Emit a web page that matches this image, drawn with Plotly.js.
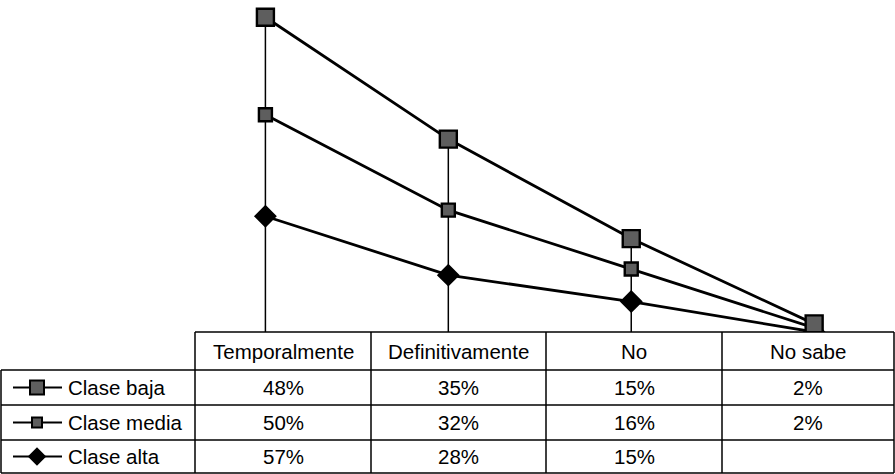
<!DOCTYPE html>
<html><head><meta charset="utf-8">
<script src="https://cdn.plot.ly/plotly-3.0.1.min.js"></script>
<style>html,body{margin:0;padding:0;background:#fff}#chart{width:895px;height:474px}</style>
</head><body><div id="chart"></div>
<script>
const categories = ["Temporalmente", "Definitivamente", "No", "No sabe"];
const seriesNames = ["Clase baja", "Clase media", "Clase alta"];
const claseBaja  = [48, 35, 15, 2];
const claseMedia = [50, 32, 16, 2];
const claseAlta  = [57, 28, 15, null];

const W = 895, H = 474;
const px = x => x / W, py = y => 1 - y / H;
const FONT = {family: "Liberation Sans, Arial, sans-serif", size: 20.5, color: "#000"};

const z = v => (v == null ? 0 : v);
const markerFill = "#5e5e5e";
const styles = {
  "Clase baja":  {symbol: "square",  size: 17, color: markerFill},
  "Clase media": {symbol: "square",  size: 13, color: markerFill},
  "Clase alta":  {symbol: "diamond", size: 15, color: "#000"}
};
const seriesData = {"Clase baja": claseBaja, "Clase media": claseMedia, "Clase alta": claseAlta};

const traces = [];
// drop lines (from baseline to the top of the stack)
const dx = [], dy = [];
categories.forEach((c, i) => {
  const tot = z(claseBaja[i]) + z(claseMedia[i]) + z(claseAlta[i]);
  dx.push(c, c, c); dy.push(0, tot, null);
});
traces.push({x: dx, y: dy, mode: "lines", line: {color: "#000", width: 1.5},
  hoverinfo: "skip", showlegend: false, connectgaps: false});

// stacked lines, bottom first
["Clase alta", "Clase media", "Clase baja"].forEach(n => {
  const s = styles[n];
  traces.push({
    x: categories, y: seriesData[n].map(z), name: n, stackgroup: "one", fill: "none",
    mode: "lines+markers", line: {color: "#000", width: 2.8},
    marker: {symbol: s.symbol, size: s.size, color: s.color, line: {color: "#000", width: 2.4}},
    showlegend: false
  });
});

// table geometry (pixel positions)
const colEdges = [195, 371, 546, 722, 894];
const rowEdges = [332, 370, 405, 440, 473];
const colCenters = colEdges.slice(0, -1).map((e, i) => (e + colEdges[i + 1]) / 2);
const rowCenters = rowEdges.slice(0, -1).map((e, i) => (e + rowEdges[i + 1]) / 2);

const shapes = [];
const L = (x0, y0, x1, y1) => shapes.push({type: "line", xref: "paper", yref: "paper",
  x0: px(x0), y0: py(y0), x1: px(x1), y1: py(y1), line: {color: "#000", width: 1.5}});
L(195, 332, 894, 332);
for (let r = 1; r < rowEdges.length; r++) L(1, rowEdges[r], 894, rowEdges[r]);
L(1, 370, 1, 473);
colEdges.forEach(x => L(x, 332, x, 473));

const annotations = [];
const A = (text, x, y, anchor) => annotations.push({text, xref: "paper", yref: "paper",
  x: px(x), y: py(y), xanchor: anchor || "center", yanchor: "middle", showarrow: false, font: FONT});
categories.forEach((c, i) => A(c, colCenters[i], rowCenters[0]));
const tableRows = [claseBaja, claseMedia, claseAlta];
seriesNames.forEach((n, r) => {
  A(n, 66, rowCenters[r + 1], "left");
  tableRows[r].forEach((v, i) => { if (v != null) A(v + "%", colCenters[i], rowCenters[r + 1]); });
});

// legend keys inside the table (pixel overlay axes)
seriesNames.forEach((n, r) => {
  const s = styles[n];
  const yc = rowCenters[r + 1];
  traces.push({x: [13, 37, 62], y: [yc, yc, yc], xaxis: "x2", yaxis: "y2", mode: "lines",
    line: {color: "#000", width: 2.2}, hoverinfo: "skip", showlegend: false});
  traces.push({x: [37], y: [yc], xaxis: "x2", yaxis: "y2", mode: "markers",
    marker: {symbol: s.symbol, size: s.size - 3, color: s.color, line: {color: "#000", width: 2}},
    hoverinfo: "skip", showlegend: false});
});

const layout = {
  width: W, height: H, margin: {l: 0, r: 0, t: 0, b: 0},
  paper_bgcolor: "#fff", plot_bgcolor: "rgba(0,0,0,0)", showlegend: false,
  xaxis: {type: "category", range: [-1.451, 3.442], domain: [0, 1], visible: false, fixedrange: true},
  yaxis: {range: [0, 163.5], domain: [py(332), 1], visible: false, fixedrange: true},
  xaxis2: {range: [0, W], domain: [0, 1], anchor: "y2", visible: false},
  yaxis2: {range: [H, 0], domain: [0, 1], anchor: "x2", visible: false},
  shapes, annotations
};
Plotly.newPlot("chart", traces, layout, {staticPlot: true, displayModeBar: false});
</script></body></html>
